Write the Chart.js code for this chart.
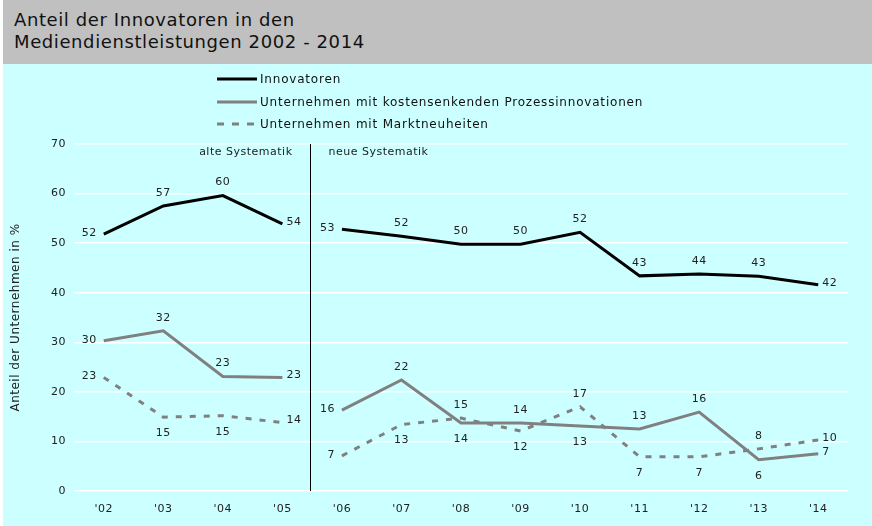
<!DOCTYPE html>
<html>
<head>
<meta charset="utf-8">
<script src="https://cdn.jsdelivr.net/npm/chart.js@4"></script>
<style>
  html, body { margin: 0; padding: 0; background: #fff; }
  #wrap { position: absolute; left: 3px; top: 0; width: 869px; height: 526px; background: #ccffff; overflow: hidden; }
  #title { position: absolute; left: 0; top: 0; width: 869px; height: 64px; background: #c0c0c0;
           font-family: "DejaVu Sans", sans-serif; font-size: 18px; letter-spacing: 0.6px; line-height: 22px; color: #111;
           padding: 9px 0 0 11px; box-sizing: border-box; }
  #legend { position: absolute; left: 214px; top: 68px; font-family: "DejaVu Sans", sans-serif; font-size: 12px; letter-spacing: 0.8px; color: #111; }
  .row { height: 22.5px; display: flex; align-items: center; }
  .row svg { margin-right: 3px; }
  canvas { position: absolute; left: -3px; top: 0; }
</style>
</head>
<body>
<div id="wrap">
  <canvas id="chart" width="872" height="526"></canvas>
  <div id="title">Anteil der Innovatoren in den<br>Mediendienstleistungen 2002 - 2014</div>
  <div id="legend"></div>
</div>
<script>
const years = ["'02", "'03", "'04", "'05", "'06", "'07", "'08", "'09", "'10", "'11", "'12", "'13", "'14"];
const seriesNames = ['Innovatoren', 'Unternehmen mit kostensenkenden Prozessinnovationen', 'Unternehmen mit Marktneuheiten'];

// values
const innovatoren = [51.8, 57.5, 59.6, 53.9, 52.8, 51.4, 49.8, 49.8, 52.2, 43.4, 43.8, 43.3, 41.6];
const prozess = [30.3, 32.3, 23.1, 22.9, 16.3, 22.4, 13.7, 13.7, 13.1, 12.5, 15.9, 6.3, 7.5];
const markt = [22.9, 14.9, 15.2, 13.8, 7.1, 13.4, 14.7, 12.1, 17.0, 6.9, 6.9, 8.5, 10.3];

// printed labels
const innovatorenLabels = [52, 57, 60, 54, 53, 52, 50, 50, 52, 43, 44, 43, 42];
const prozessLabels = [30, 32, 23, 23, 16, 22, 14, 14, 13, 13, 16, 6, 7];
const marktLabels = [23, 15, 15, 14, 7, 13, 15, 12, 17, 7, 7, 8, 10];

const innovatorenPos = ['l','a','a','r','l','a','a','a','a','a','a','a','r'];
const prozessPos = ['l','a','a','r','l','a','b','a','b','a','a','b','r'];
const marktPos = ['l','b','b','r','l','b','a','b','a','b','b','a','r'];

const yTicks = [0, 10, 20, 30, 40, 50, 60, 70];
const breakAfter = 3; // zwischen '05 und '06 neue Systematik

const FONT = '"DejaVu Sans", sans-serif';

const gap = ctx => ctx.p0DataIndex === breakAfter ? 'transparent' : undefined;

// etwas breiterer Textlauf wie im Original
const spacing = {
    id: 'spacing',
    beforeDraw(chart) { chart.ctx.letterSpacing = '0.5px'; }
};

const pointLabels = {
    id: 'pointLabels',
    afterDatasetsDraw(chart) {
        const ctx = chart.ctx;
        ctx.save();
        ctx.font = '11px ' + FONT;
        ctx.fillStyle = '#222';
        ctx.textBaseline = 'middle';
        chart.data.datasets.forEach((ds, i) => {
            const meta = chart.getDatasetMeta(i);
            meta.data.forEach((pt, j) => {
                const pos = ds.labelPos[j];
                let x = pt.x, y = pt.y;
                if (pos === 'a') { ctx.textAlign = 'center'; y -= 13; }
                else if (pos === 'b') { ctx.textAlign = 'center'; y += 16; }
                else if (pos === 'l') { ctx.textAlign = 'right'; x -= 7; y -= 1; }
                else { ctx.textAlign = 'left'; x += 4; y -= 2; }
                ctx.fillText(String(ds.labelText[j]), x, y);
            });
        });
        ctx.restore();
    }
};

const separator = {
    id: 'separator',
    afterDraw(chart) {
        const ctx = chart.ctx;
        const xs = chart.scales.x;
        const a = chart.chartArea;
        const x = Math.round((xs.getPixelForValue(breakAfter) + xs.getPixelForValue(breakAfter + 1)) / 2) - 1.5;
        ctx.save();
        ctx.strokeStyle = '#000';
        ctx.lineWidth = 1;
        ctx.beginPath();
        ctx.moveTo(x, a.top);
        ctx.lineTo(x, a.bottom);
        ctx.stroke();
        ctx.font = '11px ' + FONT;
        ctx.fillStyle = '#222';
        ctx.textBaseline = 'middle';
        ctx.textAlign = 'right';
        ctx.fillText('alte Systematik', x - 18, a.top + 8);
        ctx.textAlign = 'left';
        ctx.fillText('neue Systematik', x + 18, a.top + 8);
        ctx.restore();
    }
};

const chart = new Chart(document.getElementById('chart'), {
    type: 'line',
    data: {
        labels: years,
        datasets: [{
            label: seriesNames[0],
            data: innovatoren,
            labelText: innovatorenLabels,
            labelPos: innovatorenPos,
            borderColor: '#000',
            borderWidth: 3,
            segment: { borderColor: gap }
        }, {
            label: seriesNames[1],
            data: prozess,
            labelText: prozessLabels,
            labelPos: prozessPos,
            borderColor: '#808080',
            borderWidth: 3,
            segment: { borderColor: gap }
        }, {
            label: seriesNames[2],
            data: markt,
            labelText: marktLabels,
            labelPos: marktPos,
            borderColor: '#808080',
            borderWidth: 3,
            borderDash: [6, 8],
            segment: { borderColor: gap }
        }]
    },
    options: {
        responsive: false,
        animation: false,
        devicePixelRatio: 1,
        elements: { point: { radius: 0 }, line: { tension: 0 } },
        layout: { padding: { left: 0, top: 144, right: 24, bottom: 0 } },
        plugins: { legend: { display: false }, tooltip: { enabled: false }, title: { display: false } },
        scales: {
            x: {
                offset: true,
                grid: { display: false, drawTicks: false },
                border: { display: false },
                ticks: { padding: 12, color: '#222', font: { family: FONT, size: 11 }, maxRotation: 0 },
                afterFit(s) { s.height = 35; }
            },
            y: {
                min: 0, max: 70,
                afterBuildTicks(s) { s.ticks = yTicks.map(v => ({ value: v })); },
                grid: { color: '#ffffff', lineWidth: 1.5, drawTicks: false },
                border: { display: false },
                ticks: { padding: 8, color: '#222', font: { family: FONT, size: 11 } },
                title: { display: true, text: 'Anteil der Unternehmen in %', color: '#222', font: { family: FONT, size: 12 }, padding: { top: 9 } },
                afterFit(s) { s.width = 74; }
            }
        }
    },
    plugins: [spacing, pointLabels, separator]
});

// Legende
const legend = document.getElementById('legend');
chart.data.datasets.forEach(ds => {
    const row = document.createElement('div');
    row.className = 'row';
    const dash = ds.borderDash ? 'stroke-dasharray="7 8"' : '';
    row.innerHTML = `<svg width="40" height="4"><line x1="0" y1="2" x2="40" y2="2" stroke="${ds.borderColor}" stroke-width="3" ${dash}/></svg><span>${ds.label}</span>`;
    legend.appendChild(row);
});
</script>
</body>
</html>
